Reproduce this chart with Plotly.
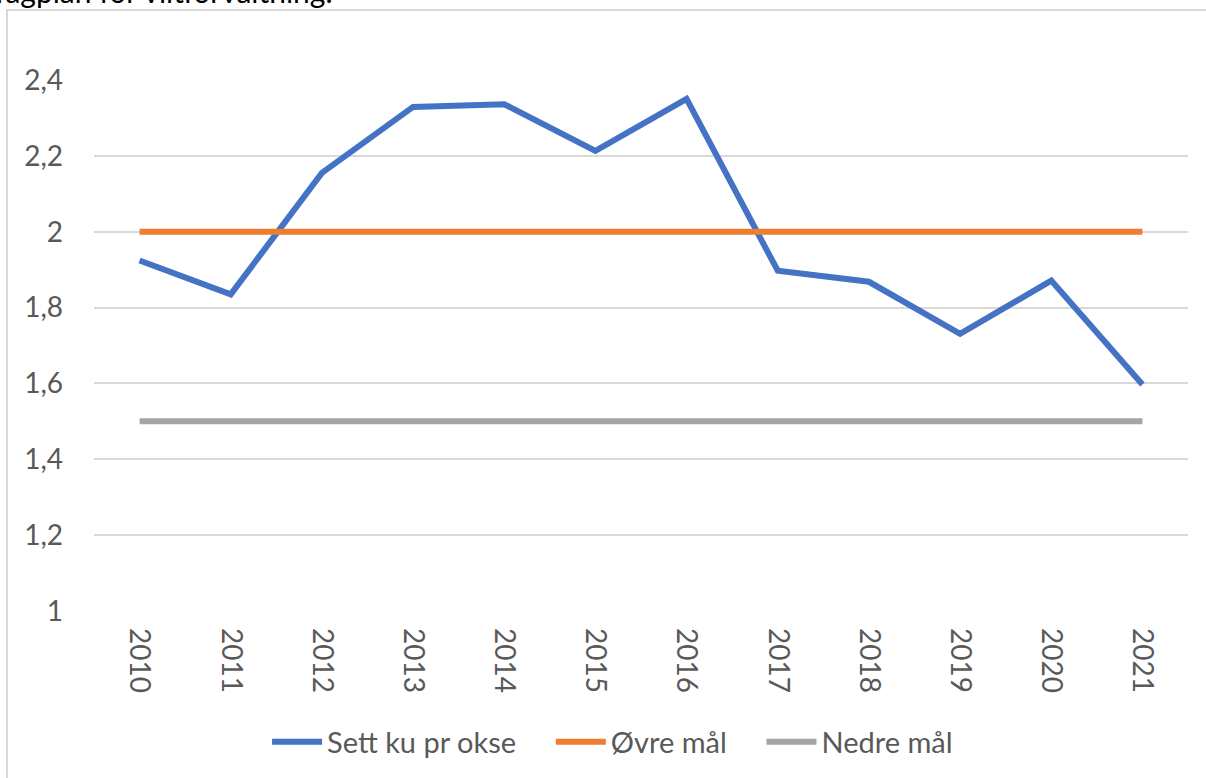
import plotly.graph_objects as go

# ── Data ───────────────────────────────────────────────────────────────────────
years = ["2010", "2011", "2012", "2013", "2014", "2015",
         "2016", "2017", "2018", "2019", "2020", "2021"]
sett_ku_pr_okse = [1.924, 1.835, 2.155, 2.329, 2.336, 2.213,
                   2.350, 1.897, 1.868, 1.731, 1.871, 1.597]
ovre_maal = [2.0] * len(years)
nedre_maal = [1.5] * len(years)

y_ticks = [1.0, 1.2, 1.4, 1.6, 1.8, 2.0, 2.2, 2.4]
y_tick_text = ["1", "1,2", "1,4", "1,6", "1,8", "2", "2,2", "2,4"]

# ── Colours ────────────────────────────────────────────────────────────────────
BLUE = "#4472C4"
ORANGE = "#ED7D31"
GRAY = "#A5A5A5"
GRID = "#D9D9D9"
TEXT = "#595959"
FONT = "Lato, sans-serif"
PAD = "\u00a0" * 4  # extra room between legend entries, as in Excel

fig = go.Figure()

for vals, color, name in [
    (sett_ku_pr_okse, BLUE, "Sett ku pr okse" + PAD),
    (ovre_maal, ORANGE, "Øvre mål" + PAD),
    (nedre_maal, GRAY, "Nedre mål"),
]:
    fig.add_trace(go.Scatter(
        x=years, y=vals,
        mode="lines",
        name=name,
        line=dict(color=color, width=6),
    ))

# chart-area border (left + top visible)
fig.add_shape(
    type="rect", xref="paper", yref="paper",
    x0=-0.0795, x1=1.2, y0=-0.5, y1=1.1316,
    line=dict(color=GRID, width=2), layer="below",
)

# caption of the page above the chart (clipped by the picture edge)
fig.add_annotation(
    text="fagplan for viltforvaltning.",
    xref="paper", yref="paper",
    x=-0.092, y=1.1306, xanchor="left", yanchor="bottom",
    showarrow=False,
    font=dict(family=FONT, size=30, color="black"),
)

fig.update_layout(
    width=1206, height=778,
    paper_bgcolor="white",
    plot_bgcolor="white",
    font=dict(family=FONT, color=TEXT, size=28),
    margin=dict(l=94, r=18, t=80, b=166),
    showlegend=True,
    legend=dict(
        orientation="h", xanchor="center", x=0.474,
        yanchor="middle", y=-0.244,
        font=dict(size=29, color=TEXT),
        itemwidth=50,
    ),
    xaxis=dict(
        type="category",
        range=[-0.5, len(years) - 0.5],
        tickangle=90,
        showgrid=False,
        zeroline=False,
        showline=False,
        ticks="",
        ticklabelstandoff=16,
    ),
    yaxis=dict(
        range=[1, 2.4],
        tickvals=y_ticks,
        ticktext=y_tick_text,
        showgrid=True,
        gridcolor=GRID,
        gridwidth=1.5,
        zeroline=False,
        showline=False,
        ticks="",
        ticklabelstandoff=30,
    ),
)

fig.write_html(
    "out.html",
    config={"displayModeBar": False},
    post_script="document.body.style.margin='0';",
)
